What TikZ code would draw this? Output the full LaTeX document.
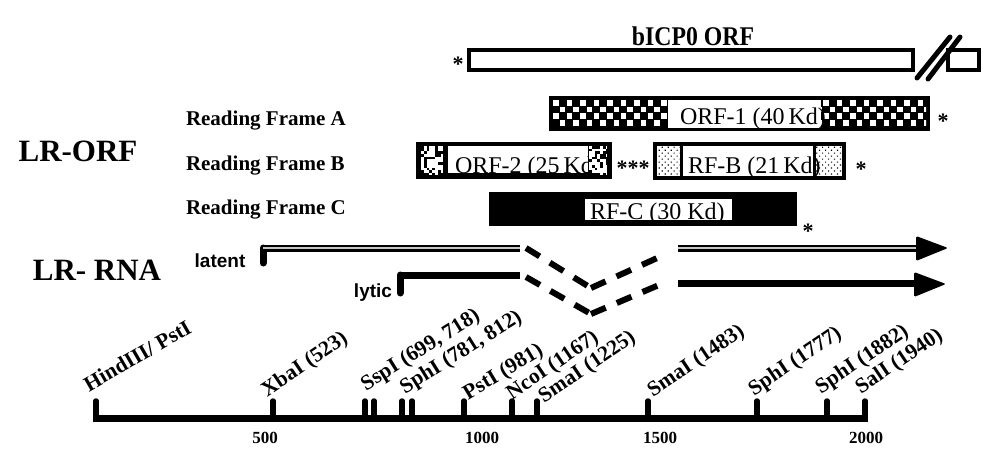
\documentclass[tikz,border=0pt]{standalone}
\usepackage{fontspec}
\setmainfont{Liberation Serif}
\newfontfamily\arialf{Liberation Sans}
\usetikzlibrary{patterns.meta}
\newcommand{\fsz}[1]{\fontsize{#1}{#1}\selectfont}
\tikzset{
  txt/.style={inner sep=0pt, outer sep=0pt},
  bigtitle/.style={txt, font=\fsz{31}\bfseries},
  rflabel/.style={txt, anchor=base west, font=\fsz{21}\bfseries},
  orflabel/.style={txt, anchor=base west, font=\fsz{24}},
  starlbl/.style={txt, font=\fsz{22}\bfseries},
  sitelbl/.style={txt, anchor=base west, font=\fsz{21.5}\bfseries, rotate=34},
  axislbl/.style={txt, anchor=base, font=\fsz{17}\bfseries},
  rnalbl/.style={txt, anchor=base, font=\arialf\fsz{19}\bfseries},
  boxline/.style={line width=3.5pt},
  rnasolid/.style={line width=7pt},
  rnadouble/.style={line width=2.6pt, double=gray!45, double distance=1.8pt},
  rnadash/.style={line width=6pt, dash pattern=on 16pt off 12pt},
  ticksty/.style={line width=5.5pt, line cap=round},
}
\begin{document}
\begin{tikzpicture}[x=1pt,y=-1pt]
\useasboundingbox[fill=white] (0,0) rectangle (1000,465);

% ---- bICP0 ORF ----
\node[txt, anchor=base, font=\fsz{27}\bfseries] (bicp) at (693,46) {\scalebox{0.88}[1]{bICP0 ORF}};
\draw[boxline, fill=white] (469,50) rectangle (913,70);
\draw[boxline, fill=white] (948,50) rectangle (979,70);
\draw[line width=5pt, line cap=round] (917,78) -- (950,37);
\draw[line width=5pt, line cap=round] (928,79) -- (960,37);
\node[starlbl] (s0) at (458,64) {*};

% ---- left titles ----
\node[bigtitle, anchor=base] (lrorf) at (78,162) {LR-ORF};
\node[bigtitle, anchor=base] (lrrna) at (97,280) {LR- RNA};
\node[rflabel] (rfa) at (186,126) {Reading Frame A};
\node[rflabel] (rfb) at (186,171) {Reading Frame B};
\node[rflabel] (rfc) at (186,214) {Reading Frame C};

% ---- Reading frame A ----
\fill (549,96) rectangle (930,131);
\begin{scope}
  \clip (553,100) rectangle (926,127);
  \foreach \j in {0,1,2,3}{
    \foreach \i in {0,2,...,56}{
      \fill[white] ({553+(\i+mod(\j,2))*6.75},{100+\j*6.75}) rectangle +(5.6,5.6);
    }}
\end{scope}
\fill[white] (668,100) rectangle (821,128);
\node[orflabel] (orf1) at (680,125) {ORF-1 (40\,Kd)};
\node[starlbl] (s1) at (943,121) {*};

% ---- Reading frame B ----
\fill (416,142) rectangle (612,179);
\begin{scope}
  \clip (421,146) rectangle (443,175);
  \fill[white] (421,146) rectangle (443,175);
  \pgfmathsetseed{11}
  \foreach \i in {0,...,7}{
    \foreach \j in {0,...,10}{
      \pgfmathsetmacro\rr{rnd}
      \ifdim\rr pt>0.58pt
        \fill ({421+\i*2.8},{146+\j*2.7}) rectangle +(2.8,2.7);
      \fi
    }}
\end{scope}
\fill[white] (448,146) rectangle (588,173);
\node[orflabel] (orf2) at (455,173) {ORF-2 (25\,Kd)};
\begin{scope}
  \clip (589,146) rectangle (607,175);
  \fill[white] (589,146) rectangle (607,175);
  \pgfmathsetseed{5}
  \foreach \i in {0,...,6}{
    \foreach \j in {0,...,10}{
      \pgfmathsetmacro\rr{rnd}
      \ifdim\rr pt>0.58pt
        \fill ({589+\i*2.8},{146+\j*2.7}) rectangle +(2.8,2.7);
      \fi
    }}
\end{scope}
\node[starlbl] (s2) at (633,168) {***};

\fill (653,142) rectangle (846,180);
\fill[white] (657,146) rectangle (680,176);
\fill[white] (816,146) rectangle (842,176);
\fill[pattern={Dots[distance=4.2pt, radius=0.8pt, angle=45]}] (657,146) rectangle (680,176);
\fill[pattern={Dots[distance=4.2pt, radius=0.8pt, angle=45]}] (816,146) rectangle (842,176);
\fill[white] (683,146) rectangle (813,176);
\node[orflabel] (rfbl) at (688,173) {RF-B (21\,Kd)};
\node[starlbl] (s3) at (861,169) {*};

% ---- Reading frame C ----
\fill (489,192) rectangle (797,226);
\fill[white] (585,199) rectangle (732,220);
\node[orflabel] (rfcl) at (590,219) {RF-C (30 Kd)};
\node[starlbl] (s4) at (808,231) {*};

% ---- LR-RNA ----
\node[rnalbl] (latent) at (220,267) {latent};
\node[rnalbl] (lytic) at (373,297) {lytic};
\coordinate (la0) at (263,263);
\coordinate (la1) at (263,248);
\coordinate (la2) at (520,248);
\coordinate (la3) at (526,248);
\coordinate (la4) at (591,288);
\coordinate (la5) at (666,254);
\coordinate (la6) at (678,248);
\coordinate (la7) at (918,248);
\coordinate (ly0) at (400,293);
\coordinate (ly1) at (400,275);
\coordinate (ly2) at (520,275);
\coordinate (ly3) at (526,277);
\coordinate (ly4) at (591,314);
\coordinate (ly5) at (666,282);
\coordinate (ly6) at (678,283);
\coordinate (ly7) at (916,283);

\draw[rnasolid, line cap=round] (la0) -- (la1);
\draw[rnadouble] (la1) -- (la2);
\draw[rnadash] (la3) -- (la4);
\draw[rnadash] (la4) -- (la5);
\draw[rnadouble] (la6) -- (la7);
\fill[rounded corners=1.5pt] (916,236) -- (948,248) -- (916,261) -- cycle;

\draw[rnasolid, line cap=round] (ly0) -- (ly1);
\draw[rnasolid] (ly1) -- (ly2);
\draw[rnadash] (ly3) -- (ly4);
\draw[rnadash] (ly4) -- (ly5);
\draw[rnasolid] (ly6) -- (ly7);
\fill[rounded corners=1.5pt] (914,272) -- (946,284) -- (914,297) -- cycle;

% ---- ruler ----
\draw[line width=7pt] (93,418) -- (868,418);
\foreach \x in {96,273,365,374,402,412,464,512,537,648,757,827,865}{
  \draw[ticksty] (\x,418) -- (\x,401);
}
\node[sitelbl, rotate=-4] (h3) at (89,392) {HindIII/ PstI};
\node[sitelbl] (xba) at (267,397) {XbaI (523)};
\node[sitelbl, rotate=-2] (ssp) at (366,391) {SspI (699, 718)};
\node[sitelbl, rotate=-2] (sph1) at (405,394) {SphI (781, 812)};
\node[sitelbl, rotate=-3] (pst) at (468,400) {PstI (981)};
\node[sitelbl] (nco) at (512,400) {NcoI (1167)};
\node[sitelbl] (sma1) at (544,403) {SmaI (1225)};
\node[sitelbl] (sma2) at (653,397) {SmaI (1483)};
\node[sitelbl] (sph2) at (754,396) {SphI (1777)};
\node[sitelbl] (sph3) at (821,394) {SphI (1882)};
\node[sitelbl] (sal) at (861,394) {SalI (1940)};

\node[axislbl] (a500) at (265,443) {500};
\node[axislbl] (a1000) at (482,443) {1000};
\node[axislbl] (a1500) at (660,443) {1500};
\node[axislbl] (a2000) at (866,443) {2000};
\end{tikzpicture}
\end{document}
